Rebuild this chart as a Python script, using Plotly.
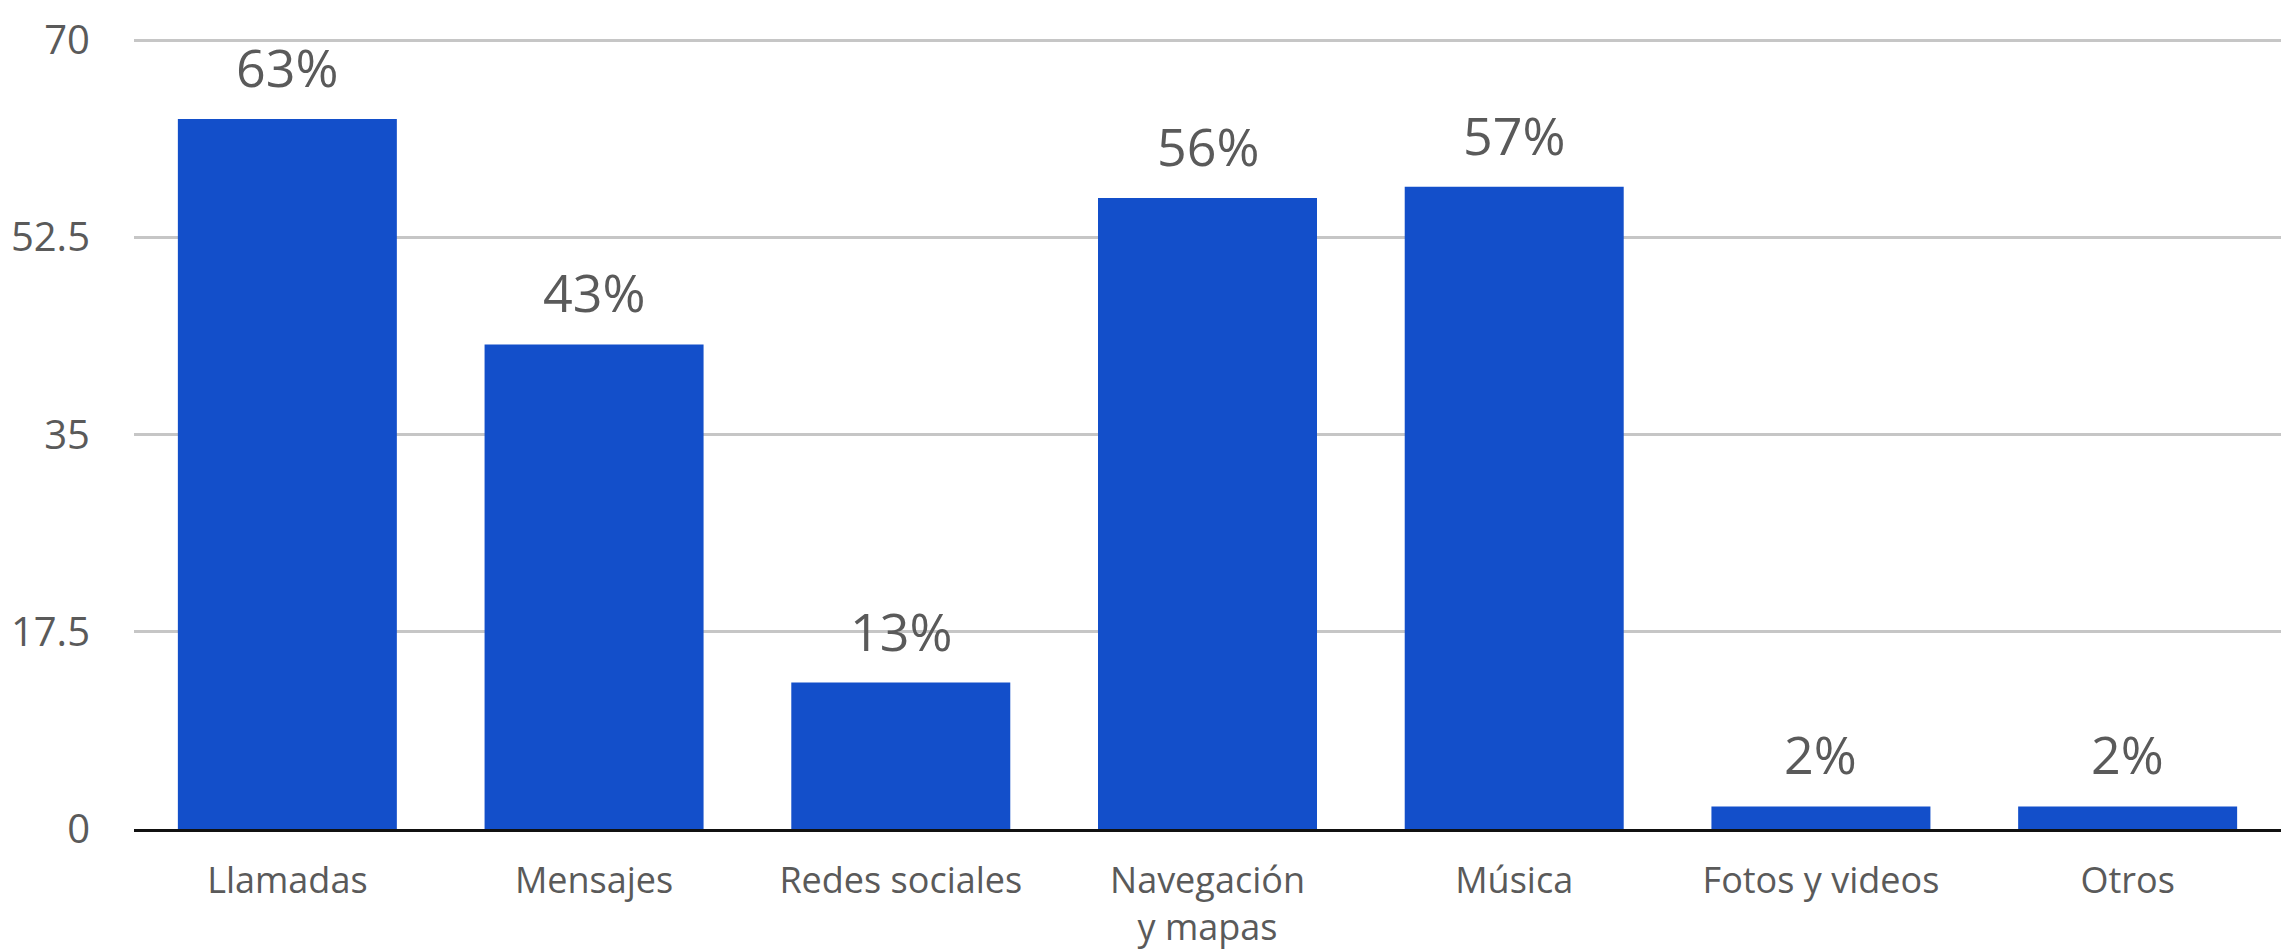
import plotly.graph_objects as go

categories = ["Llamadas", "Mensajes", "Redes sociales", "Navegación<br>y mapas",
              "Música", "Fotos y videos", "Otros"]
values = [63, 43, 13, 56, 57, 2, 2]
labels = ["63%", "43%", "13%", "56%", "57%", "2%", "2%"]
y_ticks = [0, 17.5, 35, 52.5, 70]
y_ticktext = ["0", "17.5", "35", "52.5", "70"]

FONT = "Open Sans"
TEXT = "#5a5a5a"

fig = go.Figure()
fig.add_trace(go.Bar(x=categories, y=values, marker=dict(color="#134fca", line=dict(width=0)),
                     hoverinfo="x+y"))

for c, v, t in zip(categories, values, labels):
    fig.add_annotation(x=c, y=v, text=t, showarrow=False, yanchor="bottom",
                       yshift=15, font=dict(family=FONT, size=52, color=TEXT))

fig.update_layout(
    width=2293, height=952,
    margin=dict(l=134, r=12, t=39, b=123),
    paper_bgcolor="white", plot_bgcolor="white",
    bargap=0.286,
    showlegend=False,
    font=dict(family=FONT, color=TEXT),
)
fig.update_xaxes(showline=True, linecolor="#111111", linewidth=3, showgrid=False,
                 ticks="", ticklabelstandoff=18, automargin=False,
                 tickfont=dict(family=FONT, size=36, color=TEXT))
fig.update_yaxes(range=[0, 70.1], tickvals=y_ticks, ticktext=y_ticktext,
                 showgrid=True, gridcolor="#c6c6c6", gridwidth=3, zeroline=False,
                 ticks="", ticklabelstandoff=43, automargin=False,
                 tickfont=dict(family=FONT, size=40, color=TEXT))

fig.write_html("out.html")
